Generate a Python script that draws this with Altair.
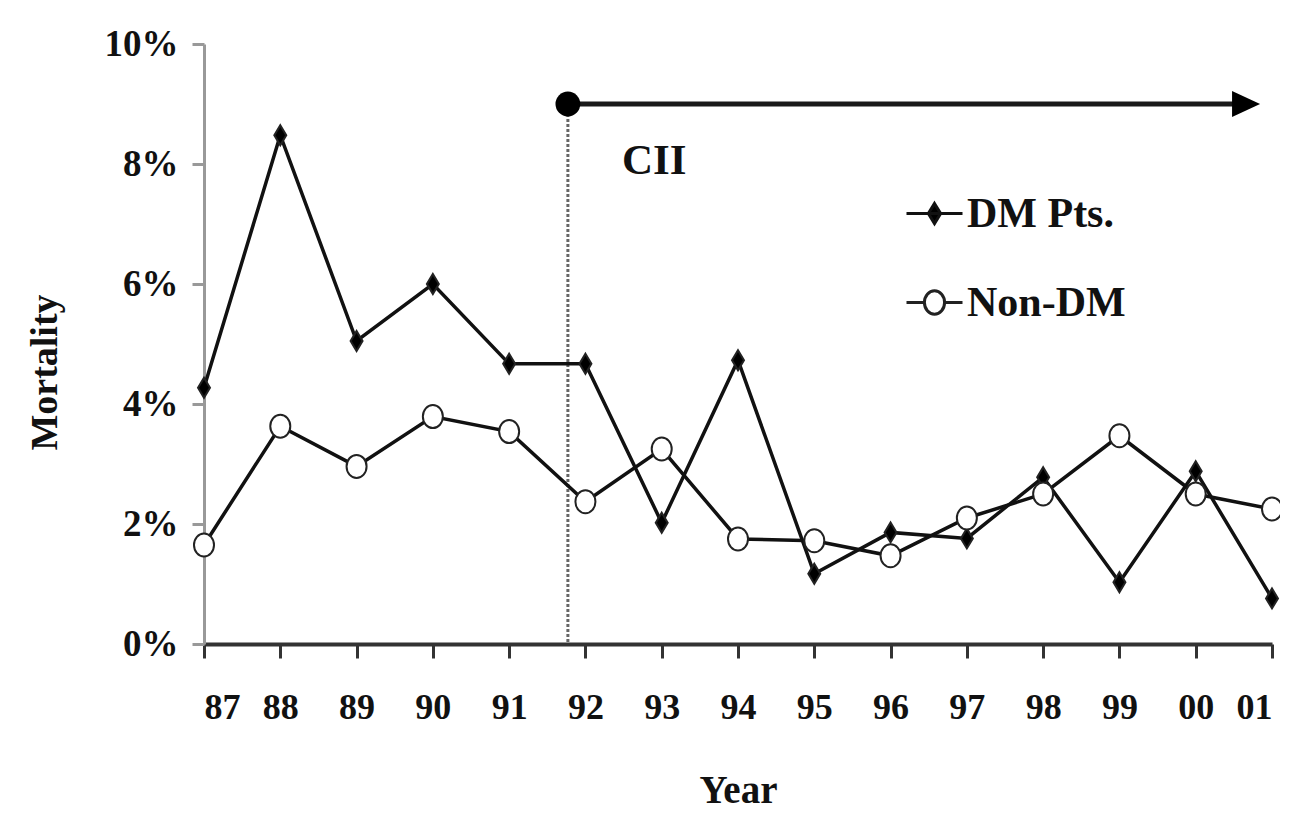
import json
import altair as alt
import pandas as pd

# ---- data ----
years = ["87", "88", "89", "90", "91", "92", "93", "94", "95", "96", "97", "98", "99", "00", "01"]
dm_pts = [4.27, 8.48, 5.05, 6.00, 4.67, 4.67, 2.02, 4.73, 1.17, 1.86, 1.76, 2.78, 1.03, 2.88, 0.76]
non_dm = [1.65, 3.63, 2.96, 3.79, 3.54, 2.37, 3.25, 1.75, 1.72, 1.47, 2.10, 2.50, 3.47, 2.50, 2.25]
series_names = ["DM Pts.", "Non-DM"]
y_ticks = [0, 2, 4, 6, 8, 10]

# annotation (in data units: year index / percent)
cii_start = 4.77      # between 91 and 92
cii_level = 9.0
arrow_end = 13.66
cii_label = "CII"
cii_label_x = 5.48
cii_label_y = 8.05

rows = []
for i, y in enumerate(years):
    rows.append({"idx": i, "series": series_names[0], "value": dm_pts[i]})
    rows.append({"idx": i, "series": series_names[1], "value": non_dm[i]})
df = pd.DataFrame(rows)

FONT = "Liberation Serif"
DIAMOND = "M0,-0.87L0.52,0L0,0.87L-0.52,0Z"
ELLIPSE = "M0.87,0A0.87,1,0,1,1,-0.87,0A0.87,1,0,1,1,0.87,0Z"
LEG_DM = "M-1,0L1,0M0,-0.36L0.22,0L0,0.36L-0.22,0Z"
LEG_NON = "M-1,0L-0.36,0M0.36,0L1,0M0.36,0A0.36,0.42,0,1,1,-0.36,0A0.36,0.42,0,1,1,0.36,0Z"

x_scale = alt.Scale(domain=[0, len(years) - 1], nice=False, zero=False)
y_scale = alt.Scale(domain=[0, 10], nice=False)

x_axis = alt.Axis(
    values=list(range(len(years))),
    labelExpr=json.dumps(years) + "[datum.value]",
    title="Year",
    titleFont=FONT, titleFontSize=39, titleFontWeight="bold", titleColor="#111",
    titleBaseline="alphabetic", titleY=158,
    labelFont=FONT, labelFontSize=36, labelFontWeight="bold", labelColor="#111",
    labelPadding=32, labelBaseline="top", labelAngle=0,
    domainColor="#333", domainWidth=4, tickColor="#333", tickWidth=3, tickSize=14,
    grid=False,
)
y_axis = alt.Axis(
    values=y_ticks,
    labelExpr="datum.value + '%'",
    title="Mortality",
    titleFont=FONT, titleFontSize=38, titleFontWeight="bold", titleColor="#111",
    titleAngle=270, titleAlign="center", titleBaseline="middle",
    titleX=-159, titleY=328,
    labelFont=FONT, labelFontSize=37, labelFontWeight="bold", labelColor="#111",
    labelPadding=14,
    domainColor="#999", domainWidth=3, tickColor="#999", tickWidth=3, tickSize=12,
    grid=False,
)

X = alt.X("idx:Q", scale=x_scale, axis=x_axis)
Y = alt.Y("value:Q", scale=y_scale, axis=y_axis)

lines = alt.Chart(df).mark_line(color="#111", strokeWidth=3.5).encode(
    x=X, y=Y, detail="series:N"
)

points = alt.Chart(df).mark_point(filled=True, size=529, stroke="#222", strokeWidth=2, opacity=1).encode(
    x=X, y=Y,
    shape=alt.Shape("series:N", scale=alt.Scale(domain=series_names, range=[DIAMOND, ELLIPSE]), legend=None),
    fill=alt.Fill("series:N", scale=alt.Scale(domain=series_names, range=["#000", "#fff"]), legend=None),
)

legend = alt.Legend(
    title=None, orient="none", legendX=701, legendY=140, direction="vertical",
    symbolSize=3136, rowPadding=38, labelOffset=3, padding=0, labelLimit=400,
    symbolStrokeColor="#111", symbolStrokeWidth=3,
    labelFont=FONT, labelFontSize=42, labelFontWeight="bold", labelColor="#111",
)
# legend-only layer: draws no marks, only carries the legend
legend_layer = alt.Chart(df).transform_filter("false").mark_point(
    filled=True, size=3136, strokeWidth=3, opacity=1
).encode(
    x=alt.X("idx:Q", scale=x_scale), y=alt.Y("value:Q", scale=y_scale),
    shape=alt.Shape("series:N", scale=alt.Scale(domain=series_names, range=[LEG_DM, LEG_NON]), legend=legend),
    fill=alt.Fill("series:N", scale=alt.Scale(domain=series_names, range=["#000", "#fff"]), legend=legend),
    stroke=alt.Stroke("series:N", scale=alt.Scale(domain=series_names, range=["#111", "#222"]), legend=legend),
)

ann = pd.DataFrame({"x": [cii_start], "x2": [arrow_end], "y": [cii_level], "y0": [0.0]})

vline = alt.Chart(ann).mark_rule(color="#666", strokeWidth=3, strokeDash=[3, 2]).encode(
    x=alt.X("x:Q", scale=x_scale), y=alt.Y("y:Q", scale=y_scale), y2="y0:Q"
)
arrow_line = alt.Chart(ann).mark_rule(color="#1a1a1a", strokeWidth=5).encode(
    x=alt.X("x:Q", scale=x_scale), x2="x2:Q", y=alt.Y("y:Q", scale=y_scale)
)
dot = alt.Chart(ann).mark_point(filled=True, color="#000", size=615, opacity=1, shape="circle").encode(
    x=alt.X("x:Q", scale=x_scale), y=alt.Y("y:Q", scale=y_scale)
)
head = alt.Chart(ann).mark_point(filled=True, color="#000", size=784, opacity=1,
                                 shape="M1,0L-1,-0.93L-1,0.93Z").encode(
    x=alt.X("x2:Q", scale=x_scale), y=alt.Y("y:Q", scale=y_scale)
)
txt_df = pd.DataFrame({"x": [cii_label_x], "y": [cii_label_y], "t": [cii_label]})
cii_text = alt.Chart(txt_df).mark_text(
    font=FONT, fontSize=43, fontWeight="bold", color="#111", align="left", baseline="middle"
).encode(x=alt.X("x:Q", scale=x_scale), y=alt.Y("y:Q", scale=y_scale), text="t:N")

chart = alt.layer(vline, arrow_line, dot, head, cii_text, lines, points, legend_layer).resolve_scale(
    shape="independent", fill="independent", stroke="independent"
).properties(
    width=1068, height=600,
    padding={"left": 196, "top": 36, "right": 8, "bottom": 168},
    autosize=alt.AutoSizeParams(type="none"),
    background="white",
).configure_view(stroke=None)

chart.save("out.html", embed_options={"renderer": "svg", "actions": False})
